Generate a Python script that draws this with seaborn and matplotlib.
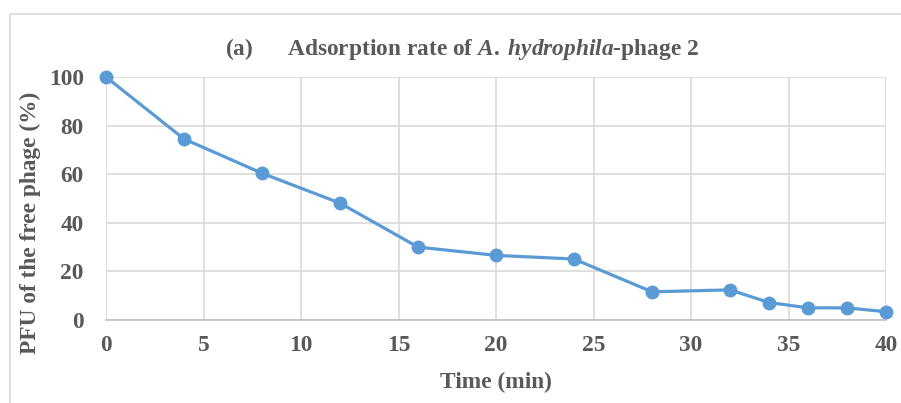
import matplotlib
matplotlib.use("Agg")
import matplotlib.pyplot as plt
import seaborn as sns
import pandas as pd
from matplotlib.patches import Rectangle

time_min = [0, 4, 8, 12, 16, 20, 24, 28, 32, 34, 36, 38, 40]
pfu_pct = [100, 74.5, 60.4, 48.1, 30.0, 26.6, 25.1, 11.6, 12.4, 7.2, 5.0, 5.0, 3.4]
x_ticks = [0, 5, 10, 15, 20, 25, 30, 35, 40]
y_ticks = [0, 20, 40, 60, 80, 100]

sns.set_theme(style="white")
plt.rcParams['font.family'] = ['Liberation Serif', 'DejaVu Serif']
plt.rcParams['mathtext.fontset'] = 'custom'
plt.rcParams['mathtext.rm'] = 'Liberation Serif:bold'
plt.rcParams['mathtext.it'] = 'Liberation Serif:italic:bold'
plt.rcParams['mathtext.bf'] = 'Liberation Serif:bold'

TXT = '#595959'
GRID = '#D9D9D9'
LINE = '#5B9BD5'
FS = 16.8

W, H = 901, 403
fig = plt.figure(figsize=(W/100, H/100), dpi=100)
ax = fig.add_axes([106/W, 1-320/H, (886-106)/W, (320-77)/H])

# outer chart frame
fig.patches.append(Rectangle((10/W, -0.1), 1.2, (1-14/H)+0.1, transform=fig.transFigure,
                             fill=False, edgecolor='#D9D9D9', linewidth=1.2))

df = pd.DataFrame({'Time': time_min, 'PFU': pfu_pct})
sns.lineplot(data=df, x='Time', y='PFU', ax=ax, color=LINE, linewidth=2.3,
             marker='o', markersize=10, markeredgewidth=0, zorder=3, clip_on=False)

ax.set_xlim(0, 40)
ax.set_ylim(0, 100)
ax.set_xticks(x_ticks)
ax.set_yticks(y_ticks)
ax.grid(True, color=GRID, linewidth=1.2)
ax.set_axisbelow(True)
for s in ['top', 'right', 'left']:
    ax.spines[s].set_visible(False)
ax.spines['bottom'].set_color('#BFBFBF')
ax.spines['bottom'].set_linewidth(1.2)
ax.tick_params(axis='both', length=0, labelsize=FS, labelcolor=TXT)
ax.tick_params(axis='x', pad=11)
ax.tick_params(axis='y', pad=16)
for lab in ax.get_xticklabels() + ax.get_yticklabels():
    lab.set_fontweight('bold')

ax.set_xlabel('Time (min)', fontsize=FS, fontweight='bold', color=TXT)
ax.set_ylabel('PFU of the free phage (%)', fontsize=FS, fontweight='bold', color=TXT)
ax.xaxis.set_label_coords(0.5, -0.215)
ax.yaxis.set_label_coords(-0.097, 0.40)
ax.yaxis.label.set_va('center')
ax.xaxis.label.set_va('top')

ax.set_title(r'(a)      Adsorption rate of $\mathit{A.\;hydrophila}$-phage 2',
             fontsize=FS, fontweight='bold', color=TXT, pad=16, x=0.456)

fig.savefig('out.png', dpi=100)
